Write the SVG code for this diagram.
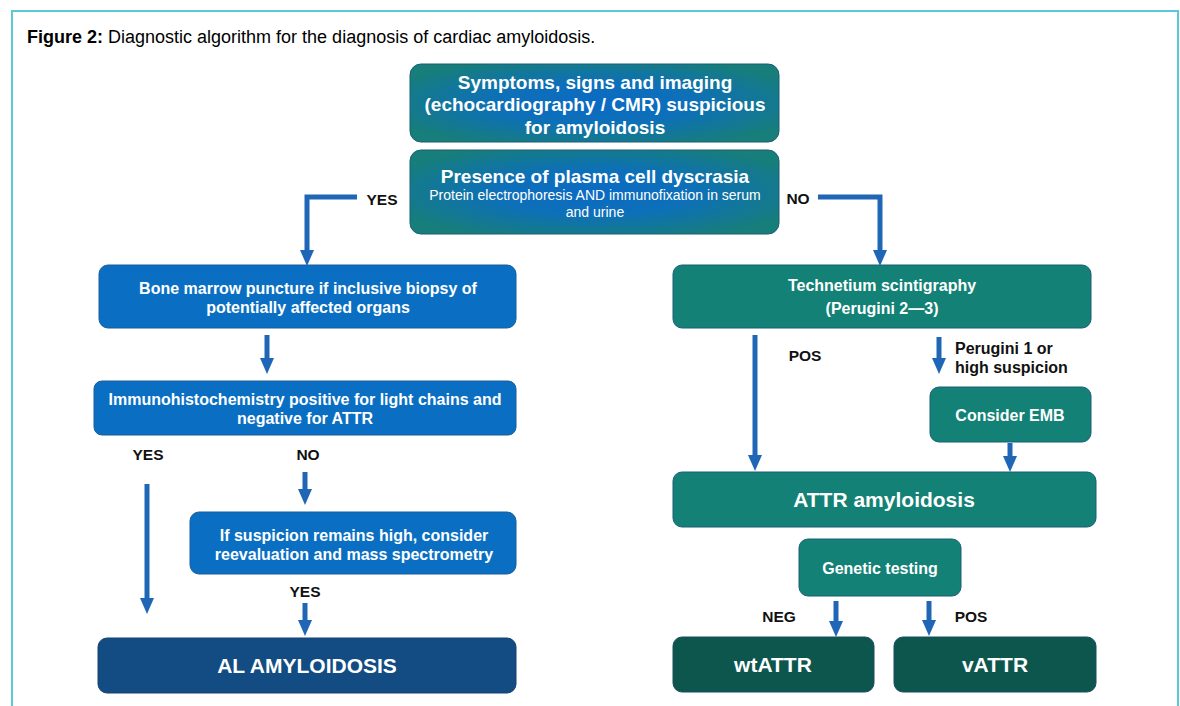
<svg xmlns="http://www.w3.org/2000/svg" width="1180" height="706" viewBox="0 0 1180 706">
<style>
text{font-family:"Liberation Sans",Arial,sans-serif;fill:#fff;text-anchor:middle}
.b{font-weight:bold}
.lbl{fill:#111;font-weight:bold;font-size:15.5px}
.blue{fill:#0a6fc2;stroke:#1a5d99;stroke-width:1}
.teal{fill:#138175;stroke:#1a5d7a;stroke-width:1}
.dteal{fill:#0d564e;stroke:#1a4d5e;stroke-width:1}
.navy{fill:#124c82;stroke:#1a4070;stroke-width:1}
.grad{fill:url(#rg);stroke:#1a5d7a;stroke-width:1}
.arr{fill:none;stroke:#1f67b6;stroke-width:5;marker-end:url(#ah)}
</style>
<defs>
<radialGradient id="rg" cx="0.5" cy="0.5" r="0.6">
<stop offset="0" stop-color="#0b6ac4"/>
<stop offset="0.45" stop-color="#0d70b8"/>
<stop offset="1" stop-color="#177e79"/>
</radialGradient>
<marker id="ah" markerUnits="userSpaceOnUse" markerWidth="16" markerHeight="14" refX="0" refY="7" orient="auto" viewBox="0 0 16 14">
<path d="M0,0 L16,7 L0,14 Z" fill="#1f67b6"/>
</marker>
</defs>
<rect width="1180" height="706" fill="#fff"/>
<path d="M12,706 V11 H1178 V706" fill="none" stroke="#5bc8d8" stroke-width="2"/>
<text x="27" y="43" style="text-anchor:start;fill:#000;font-size:18px"><tspan class="b">Figure 2:</tspan> Diagnostic algorithm for the diagnosis of cardiac amyloidosis.</text>

<g id="connectors">
<path class="arr" d="M357,197 H307 V250"/>
<path class="arr" d="M818,197 H880 V250"/>
<path class="arr" d="M267,335 V358"/>
<path class="arr" d="M147,484 V598"/>
<path class="arr" d="M305,472 V489"/>
<path class="arr" d="M305,603 V620"/>
<path class="arr" d="M755,335 V455"/>
<path class="arr" d="M939,337 V358"/>
<path class="arr" d="M1010,443 V456"/>
<path class="arr" d="M836,601 V621"/>
<path class="arr" d="M929,601 V620"/>
</g>

<g id="labels">
<text class="lbl" x="382" y="205">YES</text>
<text class="lbl" x="798" y="204">NO</text>
<text class="lbl" x="148" y="460">YES</text>
<text class="lbl" x="308" y="460">NO</text>
<text class="lbl" x="305" y="597">YES</text>
<text class="lbl" x="805" y="361">POS</text>
<text class="lbl" x="955" y="354" style="text-anchor:start;font-size:16px">Perugini 1 or</text>
<text class="lbl" x="955" y="373" style="text-anchor:start;font-size:16px">high suspicion</text>
<text class="lbl" x="779" y="622">NEG</text>
<text class="lbl" x="971" y="622">POS</text>
</g>

<g id="n-symptoms">
<rect class="grad" x="410" y="64" width="369" height="78" rx="11"/>
<text class="b" x="595" y="89" font-size="19">Symptoms, signs and imaging</text>
<text class="b" x="595" y="111" font-size="19">(echocardiography / CMR) suspicious</text>
<text class="b" x="595" y="134" font-size="19">for amyloidosis</text>
</g>
<g id="n-dyscrasia">
<rect class="grad" x="410" y="150" width="369" height="84" rx="11"/>
<text class="b" x="595" y="183" font-size="19">Presence of plasma cell dyscrasia</text>
<text x="595" y="200" font-size="14">Protein electrophoresis AND immunofixation in serum</text>
<text x="595" y="217" font-size="14">and urine</text>
</g>
<g id="n-bonemarrow">
<rect class="blue" x="99" y="265" width="417" height="63" rx="9"/>
<text class="b" x="308" y="294" font-size="16">Bone marrow puncture if inclusive biopsy of</text>
<text class="b" x="308" y="313" font-size="16">potentially affected organs</text>
</g>
<g id="n-ihc">
<rect class="blue" x="94" y="381" width="422" height="54" rx="8"/>
<text class="b" x="305" y="405" font-size="16">Immunohistochemistry positive for light chains and</text>
<text class="b" x="305" y="424" font-size="16">negative for ATTR</text>
</g>
<g id="n-suspicion">
<rect class="blue" x="190" y="512" width="326" height="62" rx="9"/>
<text class="b" x="354" y="541" font-size="16">If suspicion remains high, consider</text>
<text class="b" x="354" y="560" font-size="16">reevaluation and mass spectrometry</text>
</g>
<g id="n-al">
<rect class="navy" x="98" y="638" width="418" height="55" rx="9"/>
<text class="b" x="307" y="673" font-size="21">AL AMYLOIDOSIS</text>
</g>
<g id="n-technetium">
<rect class="teal" x="673" y="265" width="418" height="63" rx="9"/>
<text class="b" x="882" y="291" font-size="16">Technetium scintigraphy</text>
<text class="b" x="882" y="314" font-size="16">(Perugini 2—3)</text>
</g>
<g id="n-emb">
<rect class="teal" x="930" y="387" width="161" height="55" rx="9"/>
<text class="b" x="1010" y="421" font-size="16">Consider EMB</text>
</g>
<g id="n-attr">
<rect class="teal" x="673" y="472" width="423" height="55" rx="9"/>
<text class="b" x="884" y="507" font-size="21">ATTR amyloidosis</text>
</g>
<g id="n-genetic">
<rect class="teal" x="799" y="539" width="162" height="57" rx="9"/>
<text class="b" x="880" y="574" font-size="16">Genetic testing</text>
</g>
<g id="n-wtattr">
<rect class="dteal" x="673" y="637" width="201" height="55" rx="9"/>
<text class="b" x="773" y="672" font-size="21">wtATTR</text>
</g>
<g id="n-vattr">
<rect class="dteal" x="894" y="637" width="202" height="55" rx="9"/>
<text class="b" x="995" y="672" font-size="21">vATTR</text>
</g>
</svg>
